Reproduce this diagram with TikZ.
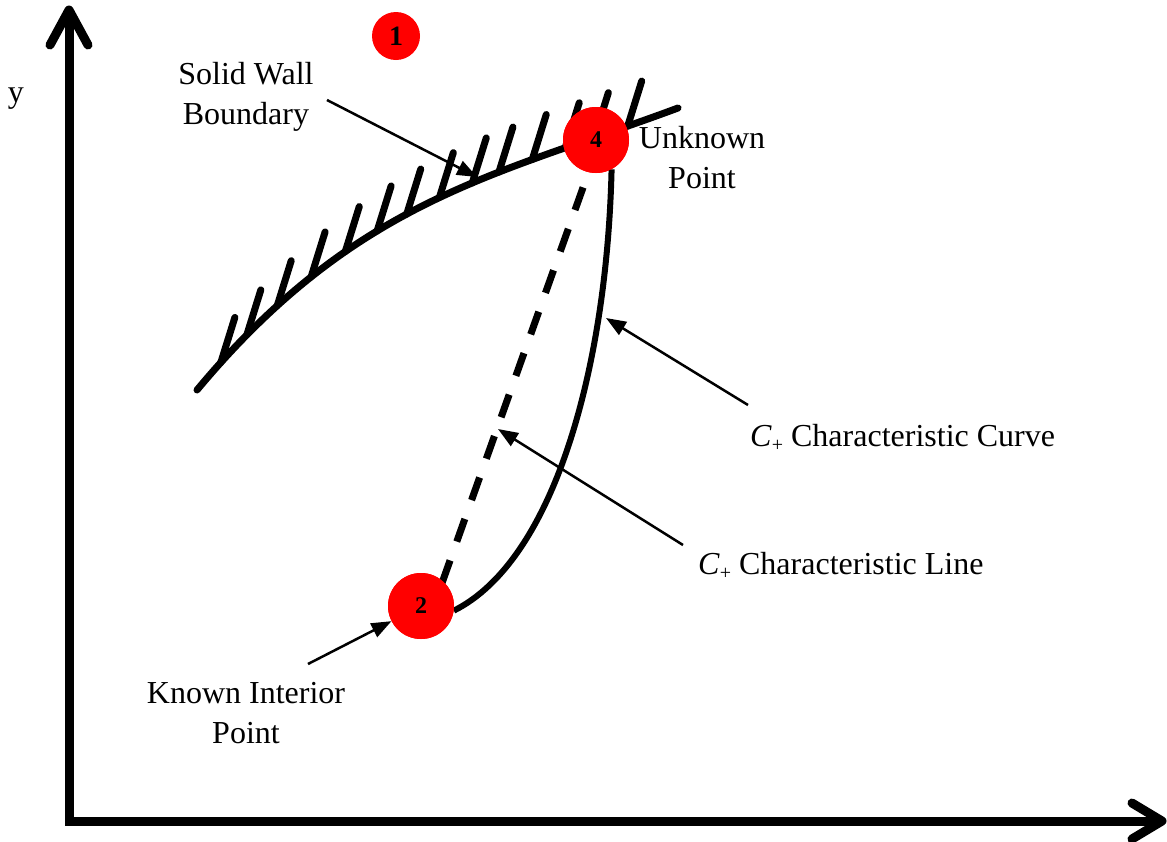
\documentclass[tikz,border=0pt]{standalone}
\usepackage{fontspec}
\setmainfont{Liberation Serif}
\usetikzlibrary{arrows.meta}
\newcommand{\Cplus}{\textit{C}\raisebox{-5pt}{\fontsize{20}{20}\selectfont +}}
\begin{document}
\begin{tikzpicture}[x=1pt,y=-1pt,
  every node/.style={font=\fontsize{32}{40}\selectfont, inner sep=0pt},
  lbl/.style={align=center},
  dot/.style={circle, fill=red, minimum size=66pt, inner sep=0pt, font=\fontsize{24}{24}\selectfont\bfseries},
  axis/.style={line width=9pt},
  chev/.style={line width=9pt, line cap=round, line join=round},
  wall/.style={line width=7pt, line cap=round},
  pointer/.style={line width=2.5pt, -{Triangle[length=20pt,width=15pt]}},
]
\useasboundingbox (0,0) rectangle (1167,841);

% axes
\coordinate (O) at (69,821);
\coordinate (ytip) at (69,10);
\coordinate (xtip) at (1162,821);
\draw[axis] (69,16) -- (O) -- (1156,821);
\draw[chev] (50,45) -- (ytip) -- (88,45);
\draw[chev] (1132,803) -- (xtip) -- (1132,839);
\node (ylab) at (16,99) {y};

% solid wall boundary
\draw[wall] (197,390) .. controls (357,198) and (498,175) .. (678,108)
  coordinate[pos=0.05] (h1) coordinate[pos=0.105] (h2) coordinate[pos=0.17] (h3)
  coordinate[pos=0.243] (h4) coordinate[pos=0.317] (h5) coordinate[pos=0.386] (h6)
  coordinate[pos=0.45] (h7) coordinate[pos=0.52] (h8) coordinate[pos=0.59] (h9)
  coordinate[pos=0.646] (h10) coordinate[pos=0.715] (h11) coordinate[pos=0.782] (h12)
  coordinate[pos=0.84] (h13) coordinate[pos=0.905] (h14);
\foreach \i in {1,...,14} \draw[wall] (h\i) -- ++(14,-45);

% points
\node[dot] (p2) at (421,606) {};
\node[dot] (p4) at (596,140) {};

% characteristic line (dashed) and curve
\coordinate (dlA) at (442,583);
\coordinate (dlB) at (590,168);
\draw[line width=7pt, dash pattern=on 24pt off 20pt] (dlA) -- (dlB);
\draw[line width=6pt] (p2.-8) .. controls (555,560) and (607,365) .. (p4.-62);

% redraw points on top
\node[dot] at (p2) {2};
\node[dot] at (p4) {4};
\node[dot, minimum size=48pt, font=\fontsize{28}{28}\selectfont\bfseries] (p1) at (396,36) {1};

% labels
\node[lbl] (sw) at (246,97) {Solid Wall\\Boundary};
\node[lbl] (up) at (702,158) {Unknown\\Point};
\node[lbl] (kip) at (246,713) {Known Interior\\Point};
\node[anchor=west] (cc) at (750,438) {\Cplus\ Characteristic Curve};
\node[anchor=west] (cl) at (698,566) {\Cplus\ Characteristic Line};

% pointers
\coordinate (swS) at (327,100);
\coordinate (swE) at (477,177);
\draw[pointer] (swS) -- (swE);
\coordinate (ccS) at (748,405);
\coordinate (ccE) at (606,318);
\draw[pointer] (ccS) -- (ccE);
\coordinate (clS) at (683,545);
\coordinate (clE) at (498,429);
\draw[pointer] (clS) -- (clE);
\coordinate (kipS) at (308,664);
\draw[pointer] (kipS) -- (p2);
\end{tikzpicture}
\end{document}
